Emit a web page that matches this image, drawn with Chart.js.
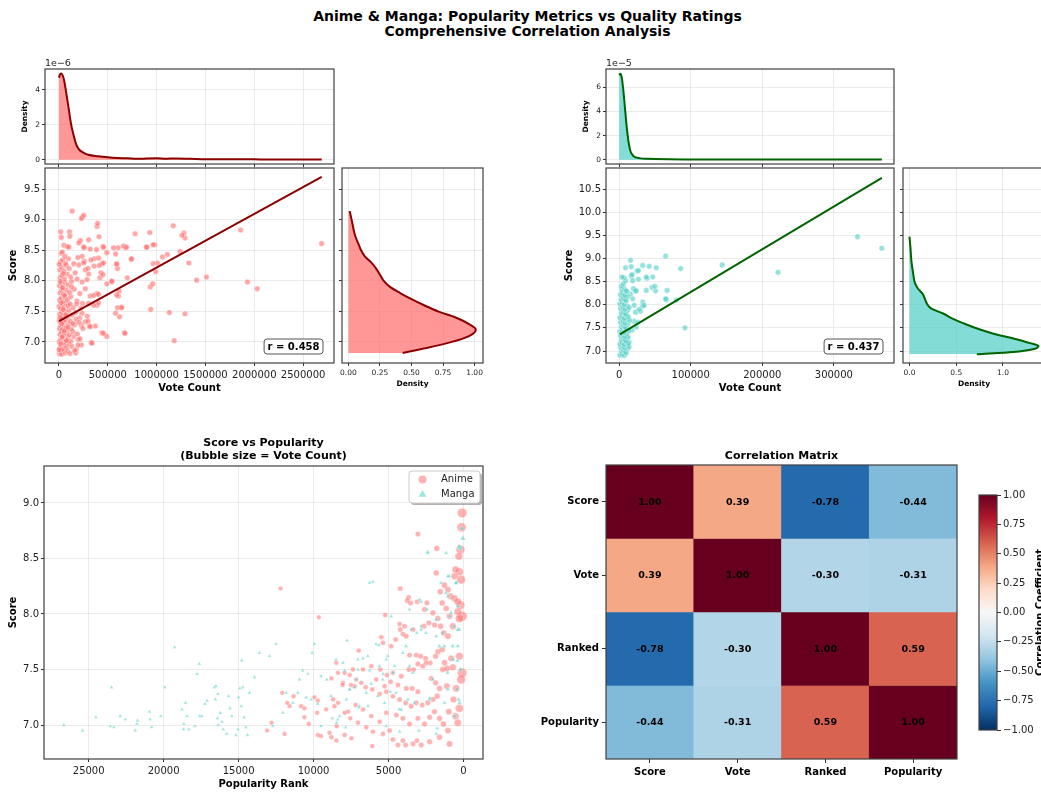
<!DOCTYPE html>
<html>
<head>
<meta charset="utf-8">
<script src="https://cdn.jsdelivr.net/npm/chart.js@4.4.1/dist/chart.umd.min.js"></script>
<style>
  html, body { margin: 0; padding: 0; background: #fff; width: 1041px; height: 793px; overflow: hidden; }
  body { position: relative; font-family: "DejaVu Sans", sans-serif; }
  canvas { position: absolute; }
  #title { position: absolute; left: 0; top: 9px; width: 1055px; text-align: center;
           font-weight: bold; font-size: 14px; line-height: 15px; color: #000; }
</style>
</head>
<body>
<div id="title">Anime &amp; Manga: Popularity Metrics vs Quality Ratings<br>Comprehensive Correlation Analysis</div>
<script>
// ---------------- data ----------------
// anime: [votes in thousands, score]
const animeVoteScore = [
  [2690,8.61],[2030,7.87],[1930,7.98],[1860,8.83],[1510,8.06],[1410,8.01],[1330,8.29],[1290,8.70],[1280,8.78],[1260,8.74],
  [1290,7.46],[1240,8.48],[1170,8.90],[1130,7.48],[1180,7.02],[1110,8.43],[1060,8.39],[1010,8.29],[980,8.59],[990,8.15],
  [965,8.28],[930,8.79],[935,7.90],[960,7.95],[900,8.55],[940,7.53],[780,8.77],[740,8.35],[700,8.05],[680,8.54],
  [660,8.57],[670,7.15],[640,7.57],[600,7.56],[620,7.41],[610,7.75],[600,8.20],[605,8.54],[580,7.47],[560,8.54],
  [590,8.28],[580,8.44],[540,7.99],[490,7.95],[490,7.09],[490,8.46],[440,7.15],[450,8.56],[440,8.28],[430,8.13],
  [420,8.05],[410,8.72],[390,8.89],[395,8.94],[385,8.51],[390,7.79],[390,7.60],[360,8.24],[360,8.36],[330,6.99],
  [320,7.75],[320,8.52],[310,7.26],[290,7.42],[270,8.18],[260,8.32],[240,9.04],[230,9.02],[260,8.54],[240,7.63],
  [135,9.14],[253,9.07],[220,8.66],[304,8.67],[203,8.62],[253,8.55],[456,8.55],[237,8.40],[328,8.34],[405,8.37],
  [253,8.29],[297,8.20],[412,8.25],[456,8.29],[304,8.11],[287,8.02],[450,8.10],[237,7.98],[270,7.87],[355,7.76],
  [405,7.78],[213,7.79],[304,7.63],[355,7.60],[405,7.64],[237,7.47],[270,7.33],[297,7.34],[213,7.39],[230,7.27],
  [321,7.25],[372,7.26],[456,7.14],[338,6.98],[591,8.27],[541,7.99],[591,7.77],[615,7.83],[642,7.56],[676,7.14],
  [743,8.36],[963,8.59],[896,8.55],[693,8.55],
  [5,6.81],[14,6.84],[26,6.80],[41,6.86],[63,6.82],[88,6.85],[112,6.81],[172,6.82],
  [9,6.90],[21,6.94],[36,6.88],[57,6.95],[77,6.91],[97,6.97],[131,6.93],[178,6.88],
  [3,7.00],[16,7.03],[31,7.06],[49,6.99],[69,7.03],[91,7.07],[122,7.01],[151,7.09],[198,7.04],
  [11,7.12],[23,7.16],[43,7.10],[61,7.14],[82,7.19],[106,7.12],[142,7.17],[188,7.13],
  [6,7.22],[19,7.26],[34,7.20],[53,7.27],[73,7.23],[99,7.29],[126,7.21],[161,7.28],
  [4,7.35],[15,7.32],[29,7.38],[46,7.33],[66,7.36],[87,7.41],[116,7.34],[176,7.37],
  [8,7.45],[25,7.48],[39,7.43],[59,7.51],[79,7.46],[102,7.52],[136,7.44],
  [2,7.58],[17,7.55],[33,7.61],[51,7.57],[71,7.63],[94,7.59],[146,7.56],
  [7,7.68],[22,7.71],[44,7.66],[64,7.73],[86,7.69],[121,7.74],[184,7.67],
  [12,7.80],[28,7.84],[47,7.78],[76,7.85],[109,7.81],[156,7.86],
  [5,7.92],[20,7.96],[40,7.90],[62,7.97],[93,7.93],[129,7.99],
  [13,8.05],[31,8.09],[56,8.03],[83,8.11],[119,8.06],[166,8.13],
  [9,8.18],[27,8.22],[50,8.16],[74,8.25],[104,8.20],
  [16,8.31],[37,8.34],[67,8.28],[96,8.36],
  [22,8.45],[51,8.58],[85,8.56],[101,8.55],[34,8.47],[17,8.80],[108,8.80],[24,8.71],[112,8.73],[193,8.38],
  [152,8.28],[186,8.03],[203,8.26],[215,7.05],[230,6.95],[160,6.86],[205,7.32],[225,7.55],[180,7.62],[245,7.22],
  [195,6.95],[170,7.48],
  [1,6.87],[18,6.97],[33,7.08],[54,7.18],[28,7.30],[10,7.40],[42,7.53],[24,7.64],[58,7.76],[35,7.88],
  [14,7.99],[45,8.12],[3,8.27],[60,8.40],[78,7.02],[92,7.24],[70,7.44],[115,7.62],[128,7.90],[140,7.30]
];

// manga: [votes in thousands, score]
const mangaVoteScore = [
  [333,9.47],[367,9.22],[222,8.70],[144,8.86],[65,9.05],[86,8.78],[67,8.31],[66,8.11],[92,7.50],[80,8.10],
  [52,8.80],[42,8.83],[33,8.85],[47,8.60],[39,8.57],[27,8.55],[46,8.37],[38,8.31],[51,8.30],[24,8.30],
  [33,7.97],[30,7.86],[23,7.84],[24,7.52],[16,8.96],[17,8.82],[9,8.80],[17,8.62],[25,8.73],[27,8.74],
  [18,8.65],[19,8.52],[50,8.40],[38,8.60],[20,8.35],[23,8.30],[65,8.13],[33,8.06],[35,7.99],[28,7.90],
  [21,7.64],[21,7.99],[19,8.13],[16,8.23],[26,7.62],[18,7.45],[14,7.20],[12,7.31],
  [1,6.91],[4,6.93],[7,6.90],[10,6.95],[3,7.00],[6,7.02],[9,6.98],[12,7.05],[2,7.08],[5,7.10],
  [8,7.06],[11,7.12],[14,7.09],[1,7.15],[4,7.18],[7,7.14],[10,7.20],[13,7.16],[3,7.24],[6,7.27],
  [9,7.22],[12,7.30],[2,7.33],[5,7.36],[8,7.31],[11,7.38],[1,7.42],[4,7.45],[7,7.40],[10,7.48],
  [14,7.44],[3,7.52],[6,7.55],[9,7.50],[12,7.58],[2,7.62],[5,7.65],[8,7.60],[11,7.68],[15,7.66],
  [1,7.72],[4,7.75],[7,7.70],[10,7.78],[13,7.74],[3,7.82],[6,7.85],[9,7.80],[12,7.88],[2,7.92],
  [5,7.95],[8,7.90],[11,7.98],[14,7.94],[1,8.02],[4,8.05],[7,8.00],[10,8.08],[3,8.12],[6,8.15],
  [9,8.10],[12,8.18],[2,8.22],[5,8.25],[8,8.20],[11,8.28],[4,8.32],[7,8.35],[10,8.30],[3,8.40],
  [6,8.45],[9,8.52],[7,8.58],[4,8.60]
];

// regression lines: [intercept, slope per million votes], and printed r
const animeFit = [7.34, 0.877];
const mangaFit = [7.35, 9.24];
const animeR = 0.458;
const mangaR = 0.437;

// marginal density curves
const animeVoteGridK = [0, 12, 25, 50, 75, 100, 125, 150, 175, 200, 250, 300, 400, 500, 600, 700, 800, 900, 1000, 1100, 1200, 1300, 1400, 1600, 1800, 2000, 2200, 2400, 2690];
const animeVoteDens = [4.69, 4.88, 4.93, 4.60, 3.80, 2.90, 2.00, 1.40, 0.90, 0.62, 0.40, 0.28, 0.20, 0.14, 0.10, 0.08, 0.05, 0.07, 0.08, 0.06, 0.07, 0.06, 0.04, 0.02, 0.03, 0.02, 0.01, 0.01, 0.01]; // x1e-6
const animeScoreGrid = [6.82, 6.9, 7.0, 7.1, 7.2, 7.3, 7.4, 7.5, 7.6, 7.7, 7.8, 7.9, 8.0, 8.1, 8.2, 8.3, 8.4, 8.5, 8.6, 8.7, 8.8, 8.9, 9.0, 9.14];
const animeScoreDens = [0.43, 0.62, 0.82, 0.96, 1.01, 0.95, 0.85, 0.71, 0.60, 0.50, 0.41, 0.33, 0.28, 0.25, 0.22, 0.18, 0.13, 0.10, 0.08, 0.06, 0.045, 0.035, 0.025, 0.01];
const mangaVoteGridK = [0, 2, 4, 6, 8, 10, 12, 14, 16, 20, 25, 30, 40, 50, 70, 100, 150, 200, 250, 300, 367];
const mangaVoteDens = [7.02, 7.12, 6.70, 5.70, 4.40, 3.10, 2.00, 1.20, 0.68, 0.30, 0.17, 0.11, 0.07, 0.05, 0.03, 0.02, 0.01, 0.01, 0.01, 0.01, 0.01]; // x1e-5
const mangaScoreGrid = [6.93, 6.98, 7.04, 7.11, 7.17, 7.27, 7.38, 7.48, 7.59, 7.70, 7.81, 7.92, 8.01, 8.10, 8.24, 8.35, 8.46, 8.67, 8.96, 9.25, 9.47];
const mangaScoreDens = [0.72, 1.11, 1.32, 1.38, 1.29, 1.11, 0.89, 0.73, 0.59, 0.46, 0.36, 0.23, 0.19, 0.17, 0.14, 0.09, 0.06, 0.04, 0.02, 0.01, 0.0];

// bubble panel: [popularity rank, score, votes in thousands]
const animeRankScoreVotes = [
  [90,8.91,2300],[130,8.78,1900],[200,8.58,1700],[310,8.52,900],[270,8.38,1000],[160,8.31,1600],[530,8.40,600],[600,8.34,500],
  [200,8.08,1500],[90,7.98,2700],[270,7.96,1200],[380,8.02,800],[710,7.89,450],[270,7.62,900],[90,7.47,2200],[160,7.41,1700],
  [270,7.15,1100],[380,7.02,700],[490,7.33,650],[670,7.23,420],[980,7.12,300],[930,6.83,280],[530,7.08,550],[1110,7.35,260],
  [1380,7.50,220],[1780,8.59,160],[1820,8.37,150],[1550,8.20,190],[1270,8.26,240],[1040,8.22,280],[1420,8.10,210],[1150,8.05,250],
  [930,7.98,300],[870,8.16,320],[600,8.14,480],[380,8.11,750],[3040,8.72,70],[4220,8.23,45],[3660,8.15,55],[3530,8.10,58],
  [2440,8.10,90],[2600,8.04,85],[2040,8.01,110],[1710,7.96,150],[2310,7.92,95],[1930,7.90,120],[1530,7.89,180],[1330,7.83,220],
  [1040,7.80,280],[4220,7.86,45],[4040,7.82,48],[3820,7.80,52],[4530,7.77,40],[4820,7.71,38],[5480,7.79,30],[5370,7.74,32],
  [3600,7.63,55],[3150,7.63,65],[2860,7.62,72],[2530,7.60,80],[2220,7.56,95],[1860,7.62,130],[1710,7.66,150],[1420,7.68,200],
  [1270,7.56,230],[1090,7.51,270],[820,7.60,350],[710,7.52,420],[3640,7.50,55],[3330,7.50,60],[3040,7.55,68],[2710,7.53,75],
  [2490,7.56,85],[4150,7.44,45],[4710,7.47,38],[5110,7.45,34],[5550,7.50,30],[6150,7.53,25],[6700,7.50,22],[5820,7.41,28],
  [5260,7.35,33],[4860,7.39,37],[4370,7.36,42],[3820,7.33,50],[3420,7.33,57],[3040,7.30,66],[2150,7.42,100],[1860,7.38,130],
  [1600,7.33,160],[1750,7.26,145],[2040,7.23,110],[2380,7.20,90],[2750,7.18,75],[3150,7.20,63],[3490,7.17,56],[3860,7.20,50],
  [4260,7.23,44],[4710,7.26,38],[5150,7.30,34],[5590,7.28,30],[6080,7.32,26],[6530,7.34,23],[6820,7.38,21],[7150,7.41,19],
  [7590,7.45,17],[7930,7.47,16],[7370,7.50,18],[8480,7.56,14],
  [4480,7.09,40],[4040,7.06,46],[3600,7.01,54],[3040,7.06,66],[2600,7.01,80],[2260,7.07,95],[1930,7.12,120],[1600,7.06,160],
  [1330,7.01,200],[1040,6.95,260],[4930,6.95,36],[5370,6.92,32],[4710,6.87,38],[4370,6.82,42],[4040,6.86,46],[3860,6.82,50],
  [3370,6.83,58],[3110,6.86,64],[2820,6.82,72],[2260,6.85,92],[1600,6.89,160],[6040,6.94,27],[6480,6.98,24],[7040,7.02,20],
  [7550,7.06,17],[7930,7.11,16],[8370,7.20,14],[8700,7.23,13],[6150,7.08,26],[5590,7.03,30],[5150,7.11,34],[6700,7.14,22],
  [7190,7.18,19],[7700,7.12,17],[7260,7.35,19],[8040,7.38,15],[8370,7.47,14],[8810,7.42,13],[7480,6.88,18],[7930,6.91,16],
  [8480,6.86,14],[8810,6.89,13],[6080,6.81,26],
  [4260,7.91,44],[3930,7.89,48],[3370,7.86,58],[2640,7.89,78],[5220,7.99,34],[3750,8.12,52],[3090,8.11,64],
  [12200,8.23,6],[9650,7.97,9],[12090,7.29,6],[11330,7.26,7],[10830,7.17,7],[10610,7.15,7],[9940,7.25,8],[9720,7.22,8],
  [9170,7.14,9],[11930,6.92,6],[9720,6.91,8],[9500,6.90,9],[8940,6.93,10],[8460,6.99,11],[8060,7.36,12],[7500,7.36,13],
  [6990,7.67,15],[8610,7.17,11],[9760,7.11,8],[10610,7.07,7],[10320,7.01,8],[11600,7.17,7],[11760,7.20,7],[12800,7.02,6],
  [13100,6.95,5]
];

const mangaRankScoreVotes = [
  [26660,7.00,0.5],[25400,6.95,0.5],[24520,7.07,0.6],[23480,7.34,0.6],[23560,6.99,0.6],[23320,6.98,0.6],[22900,7.08,0.7],[22560,7.05,0.7],
  [21900,6.95,0.7],[21790,7.01,0.7],[21740,7.04,0.7],[20950,7.12,0.8],[20900,7.05,0.8],[20810,6.98,0.8],[20190,7.08,0.8],[19920,7.34,0.9],
  [19270,7.70,0.9],[18780,7.14,0.9],[18650,7.01,1.0],[18670,6.96,1.0],[18540,7.20,1.0],[18450,7.08,1.0],[18320,6.96,1.0],[17920,6.99,1.1],
  [17770,7.46,1.1],[17620,7.55,1.1],[17600,7.08,1.1],[17460,7.08,1.1],[17240,7.19,1.2],[17110,7.22,1.2],[16620,7.34,1.2],[16510,7.35,1.3],
  [16550,7.23,1.3],[16380,7.28,1.3],[16400,7.06,1.3],[16360,7.00,1.3],[16220,7.11,1.3],[16110,7.03,1.4],[16020,6.96,1.4],[15800,6.92,1.4],
  [15670,7.26,1.4],[15580,7.15,1.5],[15450,7.08,1.5],[15180,6.91,1.5],[15050,6.96,1.5],[15010,7.25,1.6],[14920,7.33,1.6],[14790,7.58,1.6],
  [14830,7.17,1.6],[14630,7.07,1.7],[14520,6.98,1.7],[14410,6.91,1.7],[14720,7.34,1.6],[14270,7.29,1.7],[13940,7.43,1.8],[13610,7.65,1.9],
  [12940,7.62,2.0],[12720,6.99,2.1],[12500,7.73,2.2],[12050,7.11,2.3],[11830,7.29,2.4],[11380,7.20,2.5],[11050,7.29,2.6],[10940,7.41,2.7],
  [10720,7.49,2.8],[10490,7.25,2.9],[10380,7.46,3.0],[10160,7.23,3.1],[10090,7.65,3.1],[9940,7.73,3.2],[9720,7.19,3.3],[9500,7.44,3.4],
  [9500,6.99,3.4],[9120,7.41,3.6],[8830,7.26,3.8],[8500,7.59,4.0],[8390,7.05,4.1],[7940,7.49,4.4],[7770,7.76,4.5],[7610,7.32,4.7],
  [7280,7.34,5.0],[7160,7.41,5.1],[7050,7.59,5.2],[6940,7.17,5.3],[6490,7.29,5.8],[6380,7.62,6.0],[6270,8.28,6.1],[6050,8.29,6.4],
  [6160,7.37,6.2],[5830,7.73,6.7],[5720,7.26,6.9],[5610,7.53,7.1],[5390,7.41,7.5],[5170,6.99,8],[5050,7.62,8],[4830,7.98,9],
  [4720,7.47,9],[4500,7.29,10],[4280,7.14,10],[4050,7.65,11],[3830,7.71,12],[3610,7.53,13],[3390,7.47,14],[2940,8.13,16],
  [2830,7.89,17],[2500,7.83,19],[2390,8.56,20],[2280,7.23,21],[2060,7.41,23],[1830,7.95,26],[1610,7.71,29],[1500,8.28,31],
  [1390,7.83,33],[1170,8.19,38],[1060,7.47,41],[950,8.34,45],[840,8.01,50],[730,7.71,56],[620,7.89,63],[510,8.28,72],
  [400,7.58,85],[330,7.23,95],[290,7.86,105],[180,8.59,150],[110,8.77,220],[40,8.68,370],[220,8.60,130],
  [2380,8.55,20],[1150,8.55,37],[310,8.61,100],[1040,8.34,40],[490,8.28,75],[380,8.07,88],[380,7.86,88],[930,7.98,46],
  [1040,8.16,40],[3600,8.04,13],[2820,8.11,17],[2440,8.04,20],[1820,7.80,26],[1270,7.71,35],[2820,7.86,17],[3110,7.83,15],
  [3490,7.86,14],[380,7.71,88],[710,7.59,58],[200,7.50,140],[440,7.32,80],[270,7.20,110],[600,7.08,65],[5640,7.72,7],
  [6700,7.60,5.6],[5150,7.59,8],[7040,7.50,5.2],[8040,7.56,4.3],[6260,7.49,6],[5370,7.46,7.6],[4600,7.53,9],[4880,7.30,8.5],
  [5260,7.20,7.8],[6370,7.17,6],[6970,7.16,5.3],[7590,7.32,4.7],[7810,7.23,4.5],[8260,7.08,4.2],[8480,7.02,4.1],[8750,7.06,3.8],
  [4150,7.14,11],[3710,7.23,12],[3260,7.20,14],[2260,7.24,21],[1820,6.92,26],[1750,6.97,27],[1270,7.20,35],[1040,7.32,40],
  [2970,6.95,16],[4260,6.94,10],[7860,6.98,4.4]
];

const corrLabels = ['Score', 'Vote', 'Ranked', 'Popularity'];
const corrMatrix = [
  [1.00, 0.39, -0.78, -0.44],
  [0.39, 1.00, -0.30, -0.31],
  [-0.78, -0.30, 1.00, 0.59],
  [-0.44, -0.31, 0.59, 1.00]
];

// tick positions
const voteTicksA = [0, 500000, 1000000, 1500000, 2000000, 2500000];
const voteTicksM = [0, 100000, 200000, 300000];
const scoreTicksA = [7.0, 7.5, 8.0, 8.5, 9.0, 9.5];
const scoreTicksM = [7.0, 7.5, 8.0, 8.5, 9.0, 9.5, 10.0, 10.5];
const scoreTicksB = [7.0, 7.5, 8.0, 8.5, 9.0];
const rankTicks = [0, 5000, 10000, 15000, 20000, 25000];
const densTicksA = [0, 2, 4];
const densTicksM = [0, 2, 4, 6];
const sDensTicksA = [0, 0.25, 0.5, 0.75, 1.0];
const sDensTicksM = [0, 0.5, 1.0];
const cbarTicks = [-1, -0.75, -0.5, -0.25, 0, 0.25, 0.5, 0.75, 1];

// ---------------- styling ----------------
Chart.defaults.font.family = '"DejaVu Sans", sans-serif';
Chart.defaults.color = '#222';
Chart.defaults.animation = false;
Chart.defaults.plugins.legend.display = false;
Chart.defaults.plugins.tooltip.enabled = false;

const GRID = '#e6e6e6';
const TICK = '#333';
const INK = '#222';
const RDBU = ['#053061', '#2166ac', '#4393c3', '#92c5de', '#d1e5f0', '#f7f7f7',
              '#fddbc7', '#f4a582', '#d6604d', '#b2182b', '#67001f'];

function hexRgb(h) { return [1, 3, 5].map(i => parseInt(h.substr(i, 2), 16)); }
function rdbu(v) {
  const t = (Math.max(-1, Math.min(1, v)) + 1) / 2 * (RDBU.length - 1);
  const i = Math.min(Math.floor(t), RDBU.length - 2), f = t - i;
  const a = hexRgb(RDBU[i]), b = hexRgb(RDBU[i + 1]);
  return 'rgb(' + a.map((c, k) => Math.round(c + (b[k] - c) * f)).join(',') + ')';
}
function bubble(votesK) { return 2.2 + 1.7 * Math.sqrt(votesK / 1000); }

function place(box, m) {
  const c = document.createElement('canvas');
  const w = box[2] - box[0] + m.l + m.r, h = box[3] - box[1] + m.t + m.b;
  c.width = w; c.height = h;
  c.style.left = (box[0] - m.l) + 'px';
  c.style.top = (box[1] - m.t) + 'px';
  c.style.width = w + 'px';
  c.style.height = h + 'px';
  document.body.appendChild(c);
  return c.getContext('2d');
}

function linear(pos, min, max, ticks, fmt, size, fontSize, extra) {
  const horiz = pos === 'bottom' || pos === 'top';
  return Object.assign({
    type: 'linear', position: pos, min: min, max: max,
    afterBuildTicks: s => { s.ticks = ticks.map(v => ({ value: v })); },
    afterFit: s => { if (horiz) s.height = size; else s.width = size; },
    ticks: { callback: fmt, font: { size: fontSize }, color: INK, padding: horiz ? 3 : 2, autoSkip: false, maxRotation: 0 },
    grid: { color: GRID, lineWidth: 0.8, tickLength: 3, tickColor: TICK, tickWidth: 1 },
    border: { display: false }
  }, extra || {});
}
function axTitle(text, size) {
  return { display: true, text: text, font: { size: size, weight: 'bold' }, color: '#000', padding: { top: 4, bottom: 4 } };
}

function roundRect(c, x, y, w, h, r) {
  c.beginPath();
  c.moveTo(x + r, y);
  c.arcTo(x + w, y, x + w, y + h, r);
  c.arcTo(x + w, y + h, x, y + h, r);
  c.arcTo(x, y + h, x, y, r);
  c.arcTo(x, y, x + w, y, r);
  c.closePath();
}

const frame = {
  id: 'frame',
  afterDatasetsDraw(chart) {
    const a = chart.chartArea, c = chart.ctx;
    c.save();
    c.strokeStyle = '#404040';
    c.lineWidth = 1.2;
    c.strokeRect(a.left, a.top, a.right - a.left, a.bottom - a.top);
    c.restore();
  }
};
function rBox(r) {
  return {
    id: 'rbox',
    afterDraw(chart) {
      const a = chart.chartArea, c = chart.ctx, text = 'r = ' + r.toFixed(3);
      c.save();
      c.font = 'bold 10px "DejaVu Sans"';
      const w = c.measureText(text).width + 7, h = 15;
      const x = a.right - 11 - w, y = a.bottom - 9 - h;
      roundRect(c, x, y, w, h, 3);
      c.fillStyle = '#fff'; c.fill();
      c.strokeStyle = '#555'; c.lineWidth = 1; c.stroke();
      c.fillStyle = '#000'; c.textBaseline = 'middle';
      c.fillText(text, x + 3.5, y + h / 2 + 0.5);
      c.restore();
    }
  };
}
function offsetText(text) {
  return {
    id: 'offsetText',
    afterDraw(chart) {
      const a = chart.chartArea, c = chart.ctx;
      c.save();
      c.font = '9.5px "DejaVu Sans"';
      c.fillStyle = INK; c.textBaseline = 'bottom';
      c.fillText(text, a.left, a.top - 1);
      c.restore();
    }
  };
}
function panelTitle(lines, first) {
  return {
    id: 'panelTitle',
    afterDraw(chart) {
      const a = chart.chartArea, c = chart.ctx;
      c.save();
      c.font = 'bold 11px "DejaVu Sans"';
      c.fillStyle = '#000'; c.textAlign = 'center'; c.textBaseline = 'middle';
      lines.forEach((t, i) => c.fillText(t, (a.left + a.right) / 2, a.top - first + i * 13));
      c.restore();
    }
  };
}
function tri(c, x, y, r) {
  c.beginPath();
  c.moveTo(x, y - r);
  c.lineTo(x + r * 0.866, y + r * 0.5);
  c.lineTo(x - r * 0.866, y + r * 0.5);
  c.closePath();
}
const bubbleLegend = {
  id: 'bubbleLegend',
  afterDraw(chart) {
    const a = chart.chartArea, c = chart.ctx, ds = chart.data.datasets;
    const w = 71, h = 32, x = a.right - 3 - w, y = a.top + 5;
    c.save();
    roundRect(c, x + 2, y + 2, w, h, 3);
    c.fillStyle = 'rgba(0,0,0,0.3)'; c.fill();
    roundRect(c, x, y, w, h, 3);
    c.fillStyle = '#fff'; c.fill();
    c.strokeStyle = '#cccccc'; c.lineWidth = 1; c.stroke();
    c.fillStyle = ds[0].backgroundColor;
    c.beginPath(); c.arc(x + 13.5, y + 8.5, 4, 0, Math.PI * 2); c.fill();
    c.fillStyle = ds[1].backgroundColor;
    tri(c, x + 13.5, y + 23.5, 4.5); c.fill();
    c.font = '10px "DejaVu Sans"'; c.fillStyle = INK; c.textBaseline = 'middle';
    c.fillText(ds[0].label, x + 32, y + 8.5);
    c.fillText(ds[1].label, x + 32, y + 23);
    c.restore();
  }
};
const cellText = {
  id: 'cellText',
  afterDatasetsDraw(chart) {
    const c = chart.ctx;
    c.save();
    c.font = 'bold 9.5px "DejaVu Sans"';
    c.fillStyle = '#000'; c.textAlign = 'center'; c.textBaseline = 'middle';
    chart.data.datasets.forEach((ds, i) => {
      chart.getDatasetMeta(i).data.forEach((el, j) => {
        const p = el.getProps(['x', 'y', 'base'], true);
        c.fillText(corrMatrix[i][j].toFixed(2), p.x, (p.y + p.base) / 2 + 0.5);
      });
    });
    c.restore();
  }
};
const cbarLabel = {
  id: 'cbarLabel',
  afterDraw(chart) {
    const a = chart.chartArea, c = chart.ctx;
    c.save();
    c.translate(a.right + 43, (a.top + a.bottom) / 2);
    c.rotate(-Math.PI / 2);
    c.font = 'bold 10px "DejaVu Sans"';
    c.fillStyle = '#000'; c.textAlign = 'center'; c.textBaseline = 'middle';
    c.fillText('Correlation Coefficient', 0, 0);
    c.restore();
  }
};

function pts(list, scaleX) { return list.map(p => ({ x: p[0] * scaleX, y: p[1] })); }
function fitLine(list, fit) {
  const xs = list.map(p => p[0]);
  return [Math.min(...xs), Math.max(...xs)].map(k => ({ x: k * 1000, y: fit[0] + fit[1] * k / 1000 }));
}
function curve(grid, dens, gx) { return grid.map((g, i) => ({ x: g * gx, y: dens[i] })); }
function curveH(grid, dens) { return grid.map((g, i) => ({ x: dens[i], y: g })); }

function kdeSet(data, line, fillCol) {
  return { data: data, borderColor: line, borderWidth: 2, backgroundColor: fillCol, fill: 'origin',
           pointRadius: 0, cubicInterpolationMode: 'monotone' };
}

// ---------------- panels ----------------
const animeCol = 'rgba(255,107,107,0.6)', mangaCol = 'rgba(78,205,196,0.6)';
const animeFill = 'rgba(255,107,107,0.7)', mangaFill = 'rgba(78,205,196,0.7)';
const voteFmt = v => String(v);
const oneDec = v => v.toFixed(1);
const blank = () => '';

function marginalTop(box, xr, yr, ticksX, ticksY, set, off) {
  const m = { l: 28, t: 20, r: 12, b: 10 };
  return new Chart(place(box, m), {
    type: 'line',
    data: { datasets: [set] },
    options: {
      responsive: false, layout: { padding: { left: 0, top: m.t, right: m.r, bottom: 0 } },
      scales: {
        x: linear('bottom', xr[0], xr[1], ticksX, blank, m.b, 7.5),
        y: linear('left', yr[0], yr[1], ticksY, voteFmt, m.l, 7.5, { title: axTitle('Density', 7.5) })
      }
    },
    plugins: [frame, offsetText(off)]
  });
}
function marginalRight(box, xr, yr, ticksX, ticksY, fmt, set) {
  const m = { l: 6, t: 12, r: 12, b: 30 };
  return new Chart(place(box, m), {
    type: 'line',
    data: { datasets: [set] },
    options: {
      indexAxis: 'y',
      responsive: false, layout: { padding: { left: 0, top: m.t, right: m.r, bottom: 0 } },
      scales: {
        x: linear('bottom', xr[0], xr[1], ticksX, fmt, m.b, 7.5, { title: axTitle('Density', 7.5) }),
        y: linear('left', yr[0], yr[1], ticksY, blank, m.l, 7.5)
      }
    },
    plugins: [frame]
  });
}
function mainScatter(box, ml, xr, yr, ticksX, ticksY, list, fit, col, lineCol, r) {
  const m = { l: ml, t: 12, r: 12, b: 35 };
  return new Chart(place(box, m), {
    type: 'scatter',
    data: { datasets: [
      { data: pts(list, 1000), backgroundColor: col, borderColor: 'rgba(255,255,255,0.8)', borderWidth: 0.5, pointRadius: 2.8, order: 2 },
      { data: fitLine(list, fit), showLine: true, borderColor: lineCol, borderWidth: 2, pointRadius: 0, order: 1 }
    ] },
    options: {
      responsive: false, layout: { padding: { left: 0, top: m.t, right: m.r, bottom: 0 } },
      scales: {
        x: linear('bottom', xr[0], xr[1], ticksX, voteFmt, m.b, 10, { title: axTitle('Vote Count', 10) }),
        y: linear('left', yr[0], yr[1], ticksY, oneDec, m.l, 10, { title: axTitle('Score', 10) })
      }
    },
    plugins: [frame, rBox(r)]
  });
}

// anime (top left)
const aX = [-143000, 2816000], aY = [6.655, 9.845];
marginalTop([45, 69, 334, 164], aX, [-0.245, 5.18], voteTicksA, densTicksA,
  kdeSet(curve(animeVoteGridK, animeVoteDens, 1000), '#8B0000', animeFill), '1e\u22126');
mainScatter([45, 168, 334, 363], 42, aX, aY, voteTicksA, scoreTicksA, animeVoteScore, animeFit, animeCol, '#8B0000', animeR);
marginalRight([342, 168, 483, 363], [-0.051, 1.067], aY, sDensTicksA, scoreTicksA, v => v.toFixed(2),
  kdeSet(curveH(animeScoreGrid, animeScoreDens), '#8B0000', animeFill));

// manga (top right)
const mX = [-18300, 384000], mY = [6.741, 10.954];
marginalTop([606, 69, 894, 164], mX, [-0.356, 7.52], voteTicksM, densTicksM,
  kdeSet(curve(mangaVoteGridK, mangaVoteDens, 1000), '#006400', mangaFill), '1e\u22125');
mainScatter([606, 168, 894, 363], 47, mX, mY, voteTicksM, scoreTicksM, mangaVoteScore, mangaFit, mangaCol, '#006400', mangaR);
marginalRight([903, 168, 1045, 363], [-0.069, 1.449], mY, sDensTicksM, scoreTicksM, v => v.toFixed(1),
  kdeSet(curveH(mangaScoreGrid, mangaScoreDens), '#006400', mangaFill));

// score vs popularity bubbles (bottom left)
(function () {
  const box = [44, 466, 483, 759], m = { l: 41, t: 36, r: 12, b: 35 };
  new Chart(place(box, m), {
    type: 'scatter',
    data: { datasets: [
      { label: 'Anime', data: pts(animeRankScoreVotes, 1), pointRadius: animeRankScoreVotes.map(p => bubble(p[2])),
        backgroundColor: 'rgba(255,107,107,0.52)', borderColor: 'rgba(255,255,255,0.6)', borderWidth: 0.5, order: 2 },
      { label: 'Manga', data: pts(mangaRankScoreVotes, 1), pointRadius: mangaRankScoreVotes.map(p => bubble(p[2])),
        pointStyle: 'triangle', backgroundColor: 'rgba(78,205,196,0.55)', borderColor: 'rgba(255,255,255,0.6)', borderWidth: 0.5, order: 1 }
    ] },
    options: {
      responsive: false, layout: { padding: { left: 0, top: m.t, right: m.r, bottom: 0 } },
      scales: {
        x: linear('bottom', -1300, 27980, rankTicks, voteFmt, m.b, 10, { reverse: true, title: axTitle('Popularity Rank', 10) }),
        y: linear('left', 6.694, 9.333, scoreTicksB, oneDec, m.l, 10, { title: axTitle('Score', 10) })
      }
    },
    plugins: [frame, panelTitle(['Score vs Popularity', '(Bubble size = Vote Count)'], 23), bubbleLegend]
  });
})();

// correlation matrix (bottom right)
(function () {
  const box = [606, 465, 957, 759], m = { l: 80, t: 22, r: 12, b: 25 };
  new Chart(place(box, m), {
    type: 'bar',
    data: {
      labels: corrLabels,
      datasets: corrMatrix.map((row, i) => ({
        data: row.map(() => [i - 0.5, i + 0.5]),
        backgroundColor: row.map(v => rdbu(v)),
        borderWidth: 0, grouped: false, barPercentage: 1, categoryPercentage: 1
      }))
    },
    options: {
      responsive: false, layout: { padding: { left: 0, top: m.t, right: m.r, bottom: 0 } },
      scales: {
        x: {
          type: 'category', position: 'bottom',
          afterFit: s => { s.height = m.b; },
          ticks: { font: { size: 10, weight: 'bold' }, color: '#000', padding: 3, maxRotation: 0, autoSkip: false },
          grid: { offset: false, drawOnChartArea: false, tickLength: 4, tickColor: TICK },
          border: { display: false }
        },
        y: {
          type: 'linear', position: 'left', reverse: true, min: -0.5, max: 3.5,
          afterBuildTicks: s => { s.ticks = [0, 1, 2, 3].map(v => ({ value: v })); },
          afterFit: s => { s.width = m.l; },
          ticks: { callback: v => corrLabels[v], font: { size: 10, weight: 'bold' }, color: '#000', padding: 3, autoSkip: false },
          grid: { drawOnChartArea: false, tickLength: 4, tickColor: TICK },
          border: { display: false }
        }
      }
    },
    plugins: [cellText, frame, panelTitle(['Correlation Matrix'], 9)]
  });
})();

// colorbar
(function () {
  const box = [979, 495, 997, 730], m = { l: 2, t: 12, r: 70, b: 12 };
  new Chart(place(box, m), {
    type: 'bar',
    data: {
      labels: [''],
      datasets: [{
        data: [[-1, 1]], borderWidth: 0, barPercentage: 1, categoryPercentage: 1,
        backgroundColor: ctx => {
          const a = ctx.chart.chartArea;
          if (!a) return RDBU[5];
          const g = ctx.chart.ctx.createLinearGradient(0, a.bottom, 0, a.top);
          RDBU.forEach((col, k) => g.addColorStop(k / (RDBU.length - 1), col));
          return g;
        }
      }]
    },
    options: {
      responsive: false, layout: { padding: { left: m.l, top: m.t, right: 0, bottom: m.b } },
      scales: {
        x: { display: false },
        y: {
          type: 'linear', position: 'right', min: -1, max: 1,
          afterBuildTicks: s => { s.ticks = cbarTicks.map(v => ({ value: v })); },
          afterFit: s => { s.width = m.r; },
          ticks: { callback: v => (v < 0 ? '\u2212' : '') + Math.abs(v).toFixed(2), font: { size: 10 }, color: INK, padding: 2, autoSkip: false },
          grid: { drawOnChartArea: false, tickLength: 4, tickColor: TICK },
          border: { display: false }
        }
      }
    },
    plugins: [frame, cbarLabel]
  });
})();
</script>
</body>
</html>
